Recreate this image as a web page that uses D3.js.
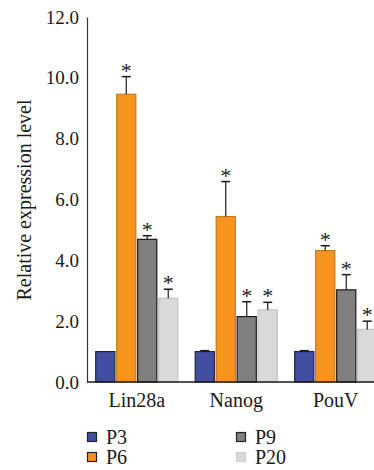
<!DOCTYPE html>
<html lang="en">
  <head>
    <meta charset="UTF-8" />
    <title>Relative expression level</title>
    <script src="https://d3js.org/d3.v7.min.js"></script>
    <style>
      * {
        margin: 0;
        padding: 0;
      }
      body {
        background: #ffffff;
        width: 374px;
        height: 470px;
        overflow: hidden;
      }
      svg text {
        font-family: "Liberation Serif", "Times New Roman", serif !important;
        fill: #1a1a1a;
      }
    </style>
  </head>
  <body>
    <div id="chart"></div>
    <script>
      const genes = ["Lin28a", "Nanog", "PouV"];
      const passages = ["P3", "P6", "P9", "P20"];
      const p3Values = [1.0, 1.0, 1.0];
      const p6Values = [9.46, 5.44, 4.32];
      const p9Values = [4.69, 2.15, 3.03];
      const p20Values = [2.75, 2.37, 1.73];
      const p3Errors = [0.0, 0.03, 0.03];
      const p6Errors = [0.58, 1.15, 0.16];
      const p9Errors = [0.12, 0.49, 0.5];
      const p20Errors = [0.3, 0.25, 0.27];
      const p3Stars = [false, false, false];
      const p6Stars = [true, true, true];
      const p9Stars = [true, true, true];
      const p20Stars = [true, true, true];
      const yTicks = [0, 2, 4, 6, 8, 10, 12];

      const fills = ["#434ea0", "#f7941d", "#808080", "#d9d9d9"];
      const strokes = ["#1f2340", "#c47a20", "#1a1a1a", "#c2c2c2"];

      const valueSets = [p3Values, p6Values, p9Values, p20Values];
      const errorSets = [p3Errors, p6Errors, p9Errors, p20Errors];
      const starSets = [p3Stars, p6Stars, p9Stars, p20Stars];

      const data = [];
      genes.forEach((g, gi) => {
        passages.forEach((p, pi) => {
          data.push({
            gene: g,
            passage: p,
            pi: pi,
            value: valueSets[pi][gi],
            err: errorSets[pi][gi],
            star: starSets[pi][gi],
          });
        });
      });

      const svg = d3
        .select("#chart")
        .append("svg")
        .attr("width", 374)
        .attr("height", 470);

      const x = d3
        .scaleBand()
        .domain(genes)
        .range([87, 385.5])
        .paddingInner(0.165)
        .paddingOuter(0.0825);
      const xi = d3
        .scaleBand()
        .domain(passages)
        .range([0, x.bandwidth()])
        .paddingInner(0.04);
      const y = d3.scaleLinear().domain([0, 12]).range([382, 17]);

      // Y axis
      const yAxis = svg
        .append("g")
        .attr("transform", "translate(87,0)")
        .call(
          d3
            .axisLeft(y)
            .tickValues(yTicks)
            .tickSize(0)
            .tickPadding(8)
            .tickFormat(d3.format(".1f"))
        );
      yAxis.select(".domain").attr("stroke", "#333").attr("stroke-width", 1.2);
      yAxis
        .selectAll("text")
        .style("font-size", "19px")
        .attr("fill", "#1a1a1a");

      svg
        .append("text")
        .attr("transform", "rotate(-90)")
        .attr("x", -200)
        .attr("y", 31)
        .style("text-anchor", "middle")
        .style("font-size", "20px")
        .text("Relative expression level");

      // bars
      const groups = svg
        .selectAll(".grp")
        .data(data)
        .enter()
        .append("g")
        .attr("transform", (d) => `translate(${x(d.gene) + xi(d.passage)},0)`);

      groups
        .append("rect")
        .attr("x", 0.5)
        .attr("width", xi.bandwidth() - 1)
        .attr("y", (d) => y(d.value))
        .attr("height", (d) => y(0) - y(d.value))
        .attr("fill", (d) => fills[d.pi])
        .attr("stroke", (d) => strokes[d.pi])
        .attr("stroke-width", 1.2);

      const w = xi.bandwidth();
      groups
        .filter((d) => d.err > 0)
        .append("line")
        .attr("x1", w / 2)
        .attr("x2", w / 2)
        .attr("y1", (d) => y(d.value))
        .attr("y2", (d) => y(d.value + d.err))
        .attr("stroke", "#1a1a1a")
        .attr("stroke-width", 1.2);
      groups
        .filter((d) => d.err > 0)
        .append("line")
        .attr("x1", w / 2 - 4.5)
        .attr("x2", w / 2 + 4.5)
        .attr("y1", (d) => y(d.value + d.err))
        .attr("y2", (d) => y(d.value + d.err))
        .attr("stroke", "#1a1a1a")
        .attr("stroke-width", 1.5);

      groups
        .filter((d) => d.star)
        .append("text")
        .attr("x", w / 2)
        .attr("y", (d) => y(d.value + d.err) + 1)
        .style("text-anchor", "middle")
        .style("font-size", "22px")
        .attr("fill", "#333")
        .text("*");

      // X axis
      const xAxis = svg
        .append("g")
        .attr("transform", "translate(0,382)")
        .call(d3.axisBottom(x).tickSize(0).tickPadding(11));
      xAxis
        .select(".domain")
        .attr("d", "M87,0H374")
        .attr("stroke", "#1a1a1a")
        .attr("stroke-width", 1.4);
      xAxis.selectAll("text").style("font-size", "20px").attr("fill", "#1a1a1a");

      // legend
      const legendPos = [
        [87, 437],
        [87, 457],
        [236, 437],
        [236, 457],
      ];
      const legend = svg
        .selectAll(".legend")
        .data(passages)
        .enter()
        .append("g")
        .attr(
          "transform",
          (d, i) => `translate(${legendPos[i][0]},${legendPos[i][1]})`
        );
      legend
        .append("rect")
        .attr("x", 0.5)
        .attr("y", -4.5)
        .attr("width", 9)
        .attr("height", 9)
        .attr("fill", (d, i) => fills[i])
        .attr("stroke", (d, i) => (i === 3 ? "#cfcfcf" : "#222"))
        .attr("stroke-width", 1.2);
      legend
        .append("text")
        .attr("x", 19)
        .attr("y", 6.5)
        .style("font-size", "20px")
        .text((d) => d);
    </script>
  </body>
</html>
